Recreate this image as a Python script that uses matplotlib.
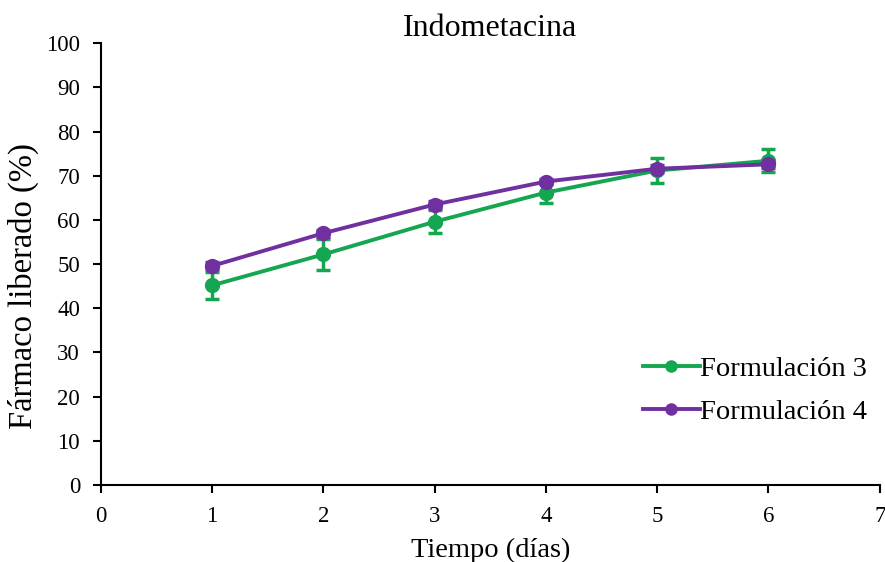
import matplotlib; matplotlib.use("Agg")
import matplotlib.pyplot as plt

dias = [1, 2, 3, 4, 5, 6]
f3 = [45.2, 52.2, 59.6, 66.2, 71.2, 73.4]
f3_err = [3.0, 3.5, 2.6, 2.4, 2.8, 2.6]
f4 = [49.6, 57.0, 63.5, 68.7, 71.6, 72.6]
f4_err = [0.8, 0.8, 0.7, 0.6, 0.8, 0.9]

GREEN = "#14a650"; PURPLE = "#7030a0"
plt.rcParams["font.family"] = ["Liberation Serif", "DejaVu Serif"]

fig = plt.figure(figsize=(8.85, 5.62), dpi=100)
ax = fig.add_axes([0.114, 0.137, 0.880, 0.786])

ax.errorbar(dias, f3, yerr=f3_err, color=GREEN, lw=2.8, marker="o", ms=10,
            capsize=5, elinewidth=2.5, capthick=2.5, label="Formulación 3")
ax.errorbar(dias, f4, yerr=f4_err, color=PURPLE, lw=2.8, marker="o", ms=10,
            capsize=5, elinewidth=2.5, capthick=2.5, label="Formulación 4")

ax.set_xlim(0, 7); ax.set_ylim(0, 100)
ax.set_xticks(range(0, 8)); ax.set_yticks(range(0, 101, 10))
for s in ("top", "right"):
    ax.spines[s].set_visible(False)
for s in ("left", "bottom"):
    ax.spines[s].set_linewidth(1.5)
ax.tick_params(labelsize=16.5, width=1.5, length=6, direction="out")
ax.tick_params(axis="y", pad=9)
ax.tick_params(axis="x", pad=9)

ax.set_title("Indometacina", fontsize=23, pad=2)
ax.set_xlabel("Tiempo (días)", fontsize=20.5)
ax.xaxis.set_label_coords(0.5, -0.12, transform=ax.transAxes)
ax.xaxis.label.set_va("top")
ax.set_ylabel("Fármaco liberado (%)", fontsize=23.5)
ax.yaxis.set_label_coords(-0.08, 0.45)

h, l = ax.get_legend_handles_labels()
h = [x[0] for x in h]
ax.legend(h, l, loc="lower right", bbox_to_anchor=(1.016, 0.078), frameon=False,
          fontsize=20.5, handlelength=2.0, handletextpad=0.0, labelspacing=0.6,
          markerscale=0.8)

fig.savefig("out.png", dpi=100, facecolor="white")
